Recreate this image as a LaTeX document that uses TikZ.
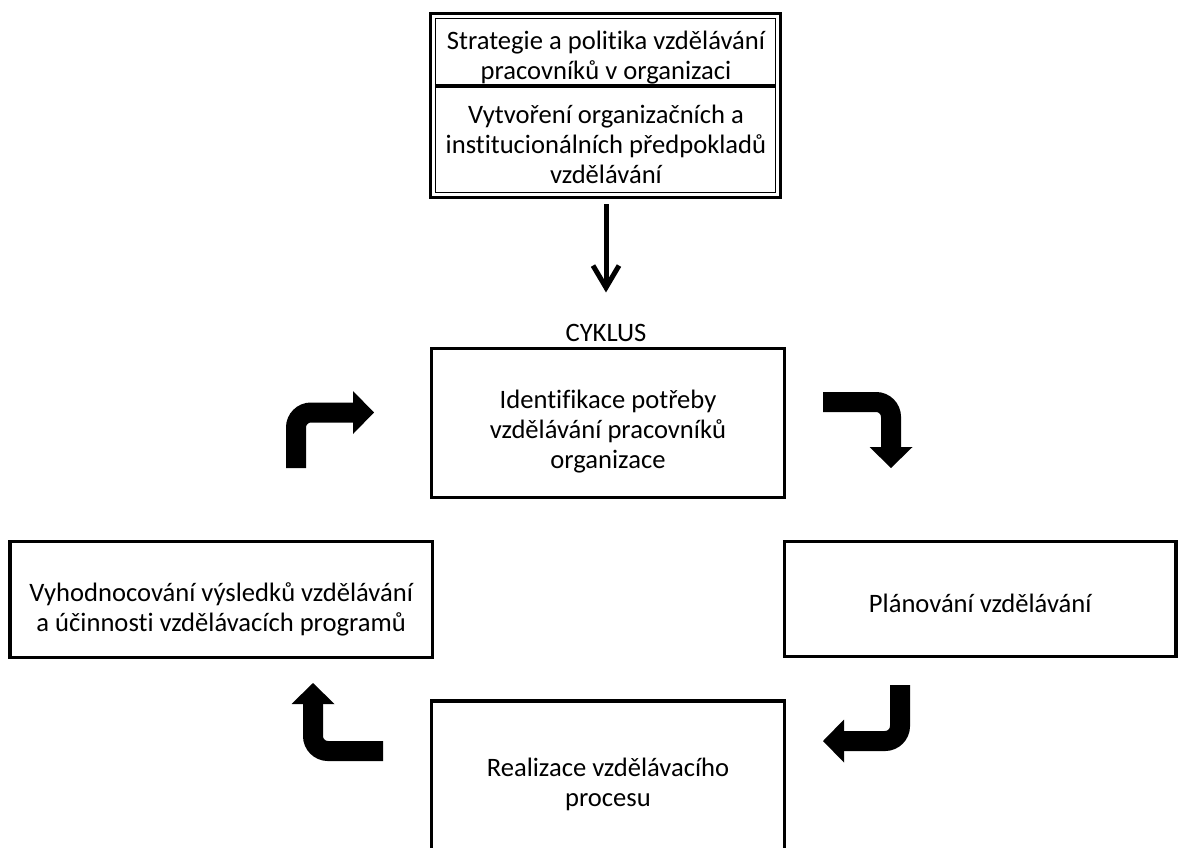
\documentclass[tikz,border=0pt]{standalone}
\usepackage{fontspec}
\setmainfont{Carlito}[Ligatures=NoCommon]
\usetikzlibrary{arrows.meta,positioning}
\newcommand\sink[1]{\rule{0pt}{#1}}
\begin{document}
\begin{tikzpicture}[x=0.5pt, y=-0.5pt,
    txt/.style={align=center, font=\fontsize{13.3}{15}\selectfont},
    box/.style={txt, draw, line width=1.65pt},
    bent/.style={line width=10pt, rounded corners=7.5pt, -{Triangle[length=10.5pt, width=21.5pt, line width=0pt]}},
    ar/.style={line width=2.5pt, -{Straight Barb[length=11pt, width=13pt]}}]
      \clip (0,0) rectangle (1178,847);
      % top block with double frame
      \node[txt] (1) at (606,57.5) {Strategie a politika vzdělávání\\pracovníků v organizaci};
      \node[txt, minimum height=48.5pt] (2) at (606,144) {Vytvoření organizačních a\\institucionálních předpokladů\\vzdělávání};
      \draw[line width=1.65pt] (430.7,13.7) rectangle (780.3,197.3);
      \draw[line width=0.85pt] (435.5,18.5) rectangle (775.5,192.5);
      \draw[line width=1.65pt] (435.5,86) -- (775.5,86);

      \node[txt, inner sep=0pt] (c) at (606,333) {CYKLUS};
      \draw[ar, shorten <=5.75pt, shorten >=15.7pt] (2.south) -- (c.north);

      % the cycle
      \node[box, minimum width=176.3pt, minimum height=74.3pt] (3) at (608,423) {\sink{17.5pt}Identifikace potřeby\\vzdělávání pracovníků\\organizace};
      \node[box, minimum width=195.85pt, minimum height=57.5pt] (4) at (980.2,599.2) {\sink{13pt}Plánování vzdělávání};
      \node[box, minimum width=176.3pt, minimum height=83pt] (5) at (608,784) {Realizace vzdělávacího\\procesu};
      \node[box, minimum width=211.15pt, minimum height=58pt] (6) at (221.2,599.7) {\sink{19pt}Vyhodnocování výsledků vzdělávání\\a účinnosti vzdělávacích programů};

      \draw[bent] (296,468) -- (296,412.5) -- (374,412.5);
      \draw[bent] (823,402) -- (891,402) -- (891,468);
      \draw[bent] (900,685) -- (900,741) -- (823,741);
      \draw[bent] (383,751) -- (313,751) -- (313,683);
    \end{tikzpicture}
\end{document}
